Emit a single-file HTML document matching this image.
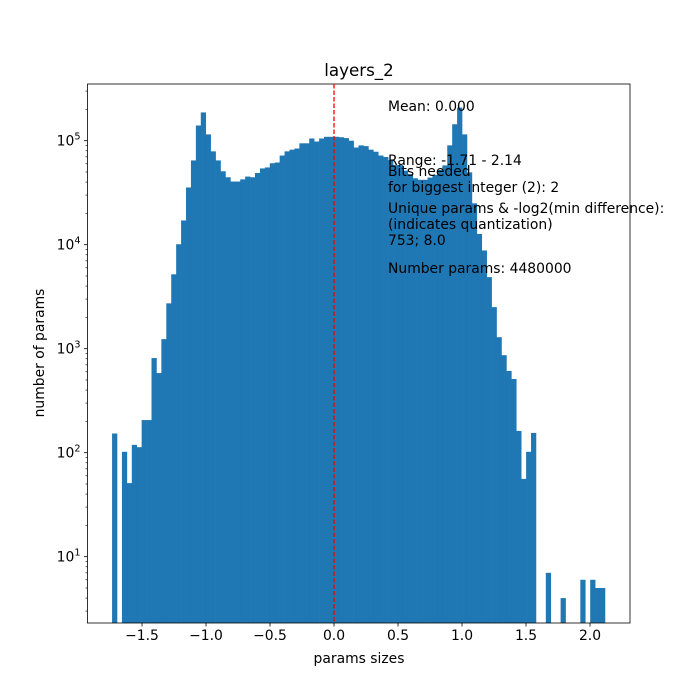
<!DOCTYPE html>
<html><head><meta charset="utf-8">
<style>
html,body{margin:0;padding:0;background:#fff;}
svg{display:block;font-family:"DejaVu Sans","Liberation Sans",sans-serif;}
</style></head>
<body>
<svg id="chart" width="700" height="700" xmlns="http://www.w3.org/2000/svg">
<rect x="0" y="0" width="700" height="700" fill="#fff"/>
<g id="bars"></g>
<g id="axes"></g>
<line id="meanline" stroke="#ff0000" stroke-width="1.3" stroke-dasharray="4.5,2"/>
<text x="359" y="76" font-size="16.7" text-anchor="middle">layers_2</text>
<text x="359" y="663" font-size="13.9" text-anchor="middle">params sizes</text>
<text x="0" y="0" font-size="13.9" text-anchor="middle" transform="translate(44,353) rotate(-90)">number of params</text>
<g font-size="13.9" fill="#000">
<text x="388" y="111">Mean: 0.000</text>
<text x="388" y="165">Range: -1.71 - 2.14</text>
<text x="388" y="176">Bits needed</text>
<text x="388" y="192">for biggest integer (2): 2</text>
<text x="388" y="213">Unique params &amp; -log2(min difference):</text>
<text x="388" y="229">(indicates quantization)</text>
<text x="388" y="245">753; 8.0</text>
<text x="388" y="273">Number params: 4480000</text>
</g>
</svg>
<script>
const counts = [153,0,102,51,119,113,206,206,813,583,1236,2729,5190,10100,17100,35500,64600,140000,187000,115000,79000,64600,50800,44500,40500,40500,42500,45200,44500,48900,54100,55300,60700,61700,72000,79000,82000,84100,94400,94400,105000,98200,105000,109000,109000,109000,108000,106000,100000,86000,90200,88700,82000,78300,72000,69800,65000,58300,58300,51500,47700,43500,42100,42100,44200,47000,52400,57900,90200,144000,208000,115000,49600,25000,12700,8800,4880,2510,1290,866,611,511,162,56,102,155,0,0,7,0,0,4,0,0,0,6,0,6,5,5];
const binRange = [-1.734, 2.117];
const xTicks = [-1.5,-1.0,-0.5,0.0,0.5,1.0,1.5,2.0];
const xTickLabels = ["\u22121.5","\u22121.0","\u22120.5","0.0","0.5","1.0","1.5","2.0"];
const yTickExps = [1,2,3,4,5];
const meanValue = 0.0;

const NS="http://www.w3.org/2000/svg";
const L=87.5,R=630,T=84,B=623;
const xmin=-1.926,xmax=2.3125;
const eTop=5+ (140.7-T)/104, eBot=5-(B-140.7)/104;
function X(v){return L+(v-xmin)/(xmax-xmin)*(R-L);}
function Y(v){const e=Math.log10(v);return T+(eTop-e)/(eTop-eBot)*(B-T);}
function mk(tag,attrs,parent){const el=document.createElementNS(NS,tag);for(const k in attrs)el.setAttribute(k,attrs[k]);parent.appendChild(el);return el;}

const bars=document.getElementById('bars');
const n=counts.length,w=(binRange[1]-binRange[0])/n;
counts.forEach((c,i)=>{
  if(c<=0)return;
  const x0=X(binRange[0]+i*w),x1=X(binRange[0]+(i+1)*w);
  const r=mk('rect',{x:x0,y:Y(c),width:x1-x0+0.3,height:B-Y(c),fill:'#1f77b4'},bars);
  
  
});

const ml=document.getElementById('meanline');
ml.setAttribute('x1',X(meanValue));ml.setAttribute('x2',X(meanValue));
ml.setAttribute('y1',T);ml.setAttribute('y2',B);

const ax=document.getElementById('axes');
const frame=mk('rect',{x:L,y:T,width:R-L,height:B-T,fill:'none',stroke:'#000','stroke-width':0.8},ax);


xTicks.forEach((t,i)=>{
  const x=X(t);
  mk('line',{x1:x,x2:x,y1:B,y2:B+3.5,stroke:'#000','stroke-width':0.8},ax);
  const tx=mk('text',{x:x,y:B+17,'font-size':13.9,'text-anchor':'middle'},ax);
  tx.textContent=xTickLabels[i];
  
  
});
yTickExps.forEach(e=>{
  const y=Y(Math.pow(10,e));
  mk('line',{x1:L-3.5,x2:L,y1:y,y2:y,stroke:'#000','stroke-width':0.8},ax);
  const tx=mk('text',{x:L-7,y:y+5,'font-size':13.9,'text-anchor':'end'},ax);
  tx.textContent='10';
  const sup=mk('tspan',{dy:-6,'font-size':9.7},tx);
  sup.textContent=String(e);
  
  
});
for(let e=0;e<=5;e++){for(let k=2;k<=9;k++){
  const v=k*Math.pow(10,e);const y=Y(v);
  if(y<T||y>B)continue;
  mk('line',{x1:L-2,x2:L,y1:y,y2:y,stroke:'#000','stroke-width':0.6},ax);
}}
</script>
</body></html>
